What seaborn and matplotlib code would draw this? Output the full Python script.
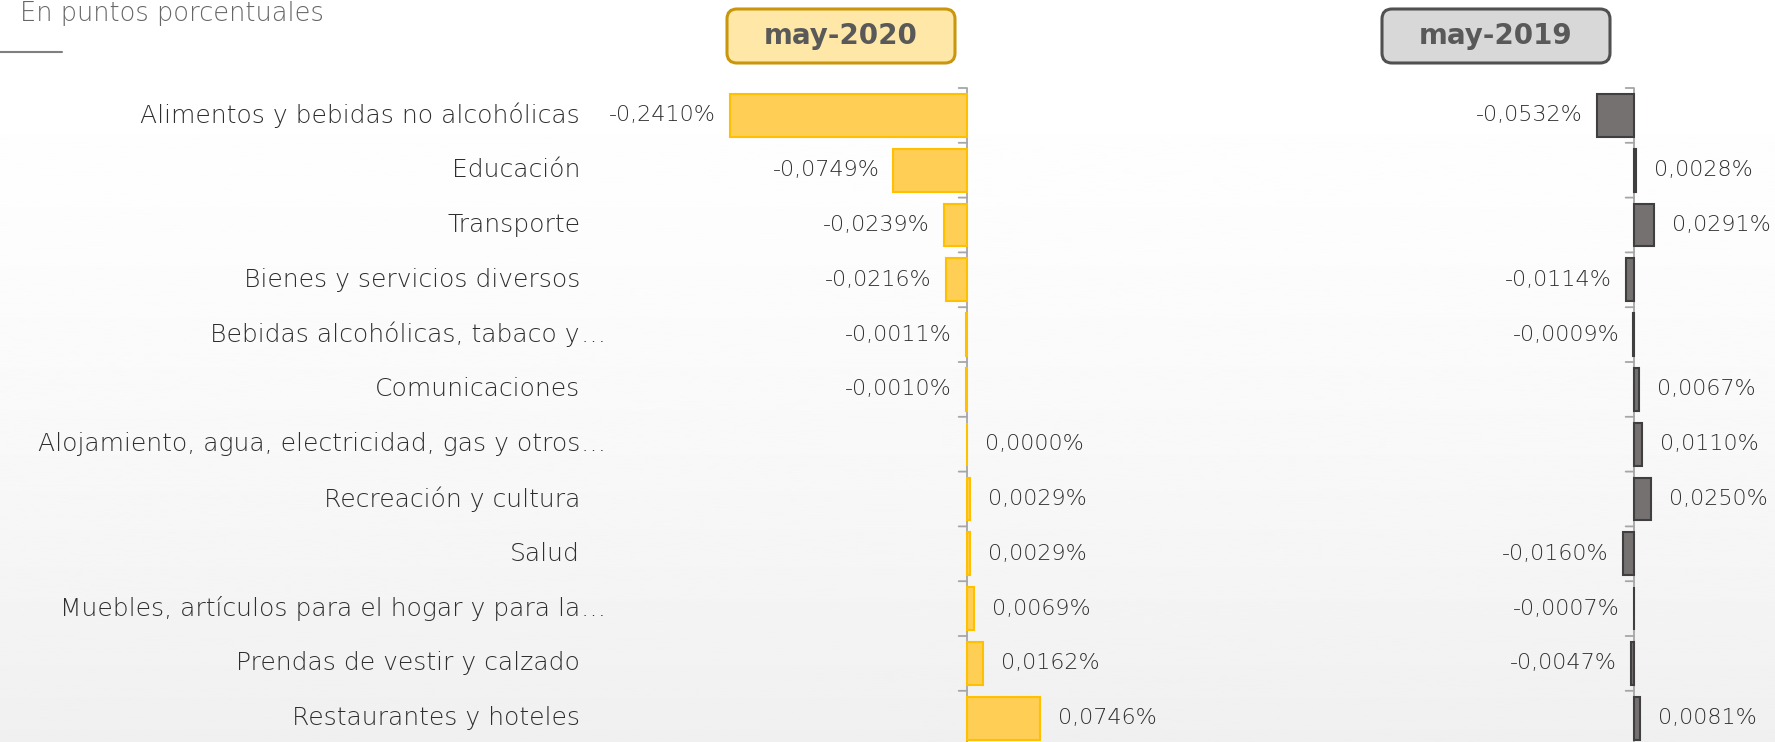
import numpy as np
import seaborn as sns
import matplotlib.pyplot as plt
from matplotlib.patches import FancyBboxPatch
from matplotlib.transforms import blended_transform_factory

# data (percentage points)
categories = [
    "Alimentos y bebidas no alcohólicas",
    "Educación",
    "Transporte",
    "Bienes y servicios diversos",
    "Bebidas alcohólicas, tabaco y…",
    "Comunicaciones",
    "Alojamiento, agua, electricidad, gas y otros…",
    "Recreación y cultura",
    "Salud",
    "Muebles, artículos para el hogar y para la…",
    "Prendas de vestir y calzado",
    "Restaurantes y hoteles",
]
may_2020 = [-0.2410, -0.0749, -0.0239, -0.0216, -0.0011, -0.0010,
            0.0000, 0.0029, 0.0029, 0.0069, 0.0162, 0.0746]
may_2019 = [-0.0532, 0.0028, 0.0291, -0.0114, -0.0009, 0.0067,
            0.0110, 0.0250, -0.0160, -0.0007, -0.0047, 0.0081]
panel_titles = ["may-2020", "may-2019"]
subtitle = "En puntos porcentuales"

sns.set_style("white")
plt.rcParams['font.family'] = ['DejaVu Sans']

W, H = 1775, 742
fig = plt.figure(figsize=(W / 100, H / 100), dpi=100)
fig.patch.set_facecolor('white')

# soft grey background wash
bg = fig.add_axes([0, 0, 1, 1], zorder=-10)
grad = np.linspace(0, 1, 256) ** 1.6
bg.imshow(1 - 0.06 * grad[:, None], cmap='gray', vmin=0, vmax=1,
          aspect='auto', extent=[0, 1, 0, 1], origin='upper')
bg.axis('off')

text_color = '#2E2E2E'
light = 'light'
n = len(categories)
row_px = 54.8
top_px = 88


def fmt(v):
    return f"{v:.4f}".replace('.', ',') + '%'


def draw_panel(values, left_px, right_px, zero_px, px_per_unit, fill, edge):
    ax = fig.add_axes([left_px / W, (H - top_px - n * row_px) / H,
                       (right_px - left_px) / W, n * row_px / H])
    ax.patch.set_alpha(0)
    sns.barplot(x=values, y=categories, orient='h', color=fill,
                edgecolor=edge, linewidth=1.5, width=0.78, saturation=1, ax=ax)
    ax.set_xlim(-(zero_px - left_px) / px_per_unit, (right_px - zero_px) / px_per_unit)
    ax.set_ylim(n - 0.5, -0.5)
    ax.axvline(0, color='#A6A6A6', lw=1.3, zorder=0)
    for s in ax.spines.values():
        s.set_visible(False)
    ax.set_xticks([])
    ax.set_yticks([])
    ax.set_ylabel('')
    # boundary ticks hanging left of the zero line
    for yb in np.arange(-0.5, n, 1):
        ax.annotate('', xy=(0, yb), xycoords='data', xytext=(-6, 0),
                    textcoords='offset points',
                    arrowprops=dict(arrowstyle='-', color='#A6A6A6', lw=1.3,
                                    shrinkA=0, shrinkB=0))
    for i, v in enumerate(values):
        if v < 0:
            ax.annotate(fmt(v), xy=(v, i), xytext=(-10, 0), textcoords='offset points',
                        ha='right', va='center', fontsize=16, color=text_color,
                        fontweight=light)
        else:
            ax.annotate(fmt(v), xy=(v, i), xytext=(13, 0), textcoords='offset points',
                        ha='left', va='center', fontsize=16, color=text_color,
                        fontweight=light)
    return ax


ax1 = draw_panel(may_2020, 620, 1260, 967, 983, '#FFCE54', '#FFC000')
ax2 = draw_panel(may_2019, 1300, 1775, 1634, 695, '#767171', '#3F3F3F')

# category labels
trans = blended_transform_factory(fig.transFigure, ax1.transData)
for i, c in enumerate(categories):
    if c.endswith('…'):
        fig.text(580 / W, i, c[:-1], transform=trans, ha='right', va='center',
                 fontsize=18, color=text_color, fontweight=light)
        fig.text(580 / W, i, '…', transform=trans, ha='left', va='center',
                 fontsize=18, color=text_color, fontweight=light)
    else:
        fig.text(580 / W, i, c, transform=trans, ha='right', va='center',
                 fontsize=18, color=text_color, fontweight=light)

# panel badges
for title, x0, face, edge in [(panel_titles[0], 727, '#FFE7A8', '#C9960C'),
                               (panel_titles[1], 1382, '#D9D8D9', '#505050')]:
    box = FancyBboxPatch((x0 / 100, (H - 63) / 100), 2.28, 0.54,
                         boxstyle='round,pad=0,rounding_size=0.1',
                         transform=fig.dpi_scale_trans, facecolor=face,
                         edgecolor=edge, lw=2.2)
    fig.patches.append(box)
    fig.text((x0 + 114) / W, (H - 36) / H, title, ha='center', va='center',
             fontsize=20, fontweight='bold', color='#595959')

# subtitle and short rule
fig.text(20 / W, (H - 13) / H, subtitle, ha='left', va='center',
         fontsize=18.5, color='#666666', fontweight=light)
fig.add_artist(plt.Line2D([0, 62 / W], [(H - 52) / H] * 2, color='#7F7F7F', lw=1.5))

fig.savefig('out.png', dpi=100)
